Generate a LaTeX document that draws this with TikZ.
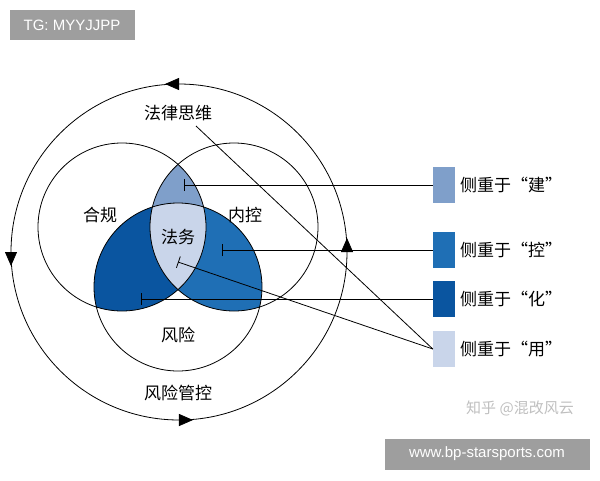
\documentclass[tikz,border=0pt]{standalone}
\usepackage{fontspec}
\newfontfamily\cjk{Noto Sans CJK SC}
\setsansfont{Liberation Sans}
\usetikzlibrary{decorations.markings,arrows.meta}
\definecolor{cA}{HTML}{7F9FCA}
\definecolor{cB}{HTML}{1F6FB5}
\definecolor{cC}{HTML}{0A55A0}
\definecolor{cD}{HTML}{C9D5EA}
\begin{document}
\begin{tikzpicture}[x=1pt,y=-1pt,
  lbl/.style={font=\cjk\fontsize{17}{17}\selectfont,inner sep=0pt},
  leg/.style={font=\cjk\fontsize{17}{17}\selectfont,inner sep=0pt,anchor=west},
  lbox/.style={minimum width=22pt,minimum height=36pt,inner sep=0pt},
  ln/.style={line width=0.8pt},
  wm/.style={fill=black!38,text=white,font=\sffamily\fontsize{15}{15}\selectfont,inner sep=0pt}]
\useasboundingbox (0,0) rectangle (600,480);
\def\L{(122,227) circle (84)}
\def\R{(234,227) circle (84)}
\def\B{(178,287) circle (84)}
\begin{scope}\clip \L; \fill[cA] \R; \end{scope}
\begin{scope}\clip \L; \fill[cC] \B; \end{scope}
\begin{scope}\clip \R; \fill[cB] \B; \end{scope}
\begin{scope}\clip \L; \clip \R; \fill[cD] \B; \end{scope}
\draw[ln] \L; \draw[ln] \R; \draw[ln] \B;
\draw[ln,postaction={decorate},decoration={markings,
  mark=at position 0.0 with {\arrow{Triangle[length=14pt,width=12pt,reversed]}},
  mark=at position 0.25 with {\arrow{Triangle[length=14pt,width=12pt,reversed]}},
  mark=at position 0.5 with {\arrow{Triangle[length=14pt,width=12pt,reversed]}},
  mark=at position 0.75 with {\arrow{Triangle[length=14pt,width=12pt,reversed]}}}]
  (179,84) arc[start angle=-90,end angle=270,radius=168];
\node[lbl] (flsw) at (178,113) {法律思维};
\node[lbl] (hg) at (100,215) {合规};
\node[lbl] (nk) at (245,215) {内控};
\node[lbl] (fw) at (178,237) {法务};
\node[lbl] (fx) at (178,335) {风险};
\node[lbl] (fxgk) at (178,393) {风险管控};
\node[lbox,fill=cA] (b1) at (444,185) {};
\node[lbox,fill=cB] (b2) at (444,250) {};
\node[lbox,fill=cC] (b3) at (444,299) {};
\node[lbox,fill=cD] (b4) at (444,349) {};
\node[leg] (t1) at (460,185) {侧重于“建”};
\node[leg] (t2) at (460,250) {侧重于“控”};
\node[leg] (t3) at (460,299) {侧重于“化”};
\node[leg] (t4) at (460,349) {侧重于“用”};
\coordinate (s1) at (184,185);
\coordinate (s2) at (222,250);
\coordinate (s3) at (141,299);
\coordinate (s4) at (178,262);
\coordinate (s5) at (196,126);
\draw[ln,{Bar[width=12pt]}-] (s1) -- (b1.west);
\draw[ln,{Bar[width=12pt]}-] (s2) -- (b2.west);
\draw[ln,{Bar[width=12pt]}-] (s3) -- (b3.west);
\draw[ln,{Bar[width=12pt]}-] (s4) -- (b4.west);
\draw[ln] (s5) -- (b4.west);
\node[font=\cjk\fontsize{15}{15}\selectfont,text=black!25] (zh) at (520,408) {知乎 @混改风云};
\node[wm,minimum width=125pt,minimum height=30pt] (tg) at (72,25) {TG: MYYJJPP};
\node[wm,minimum width=205pt,minimum height=31pt] (www) at (487,454) {www.bp-starsports.com};
\end{tikzpicture}
\end{document}
